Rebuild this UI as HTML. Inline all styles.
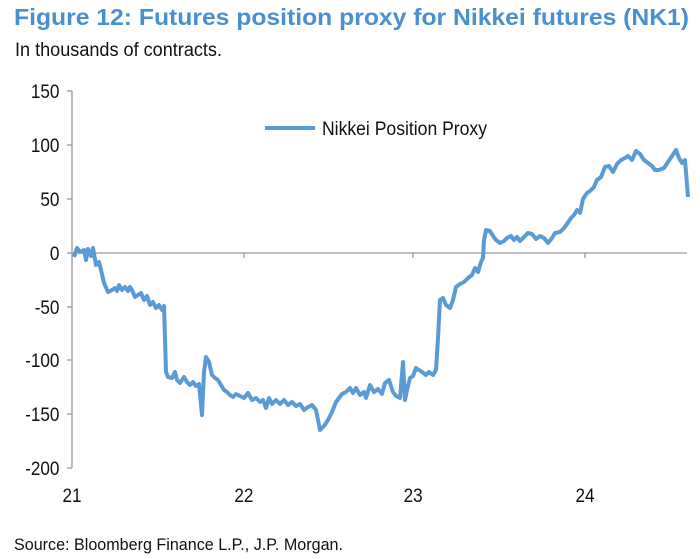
<!DOCTYPE html>
<html><head><meta charset="utf-8"><style>
body{margin:0;background:#fff;width:700px;height:559px;overflow:hidden;font-family:"Liberation Sans",Arial,sans-serif}
svg{position:absolute;left:0;top:0}
</style></head><body>
<svg width="700" height="559" xmlns="http://www.w3.org/2000/svg" font-family="Liberation Sans, Arial, sans-serif">
<text x="14" y="25" font-size="23" font-weight="bold" fill="#4a8fcf" textLength="675" lengthAdjust="spacingAndGlyphs">Figure 12: Futures position proxy for Nikkei futures (NK1)</text>
<text x="15" y="56" font-size="19" fill="#111" textLength="207" lengthAdjust="spacingAndGlyphs">In thousands of contracts.</text>
<g stroke="#999" stroke-width="1.3" fill="none">
<line x1="72" y1="91" x2="72" y2="468"/>
<line x1="67" y1="91" x2="72" y2="91"/>
<line x1="67" y1="145" x2="72" y2="145"/>
<line x1="67" y1="199" x2="72" y2="199"/>
<line x1="67" y1="253" x2="72" y2="253"/>
<line x1="67" y1="307" x2="72" y2="307"/>
<line x1="67" y1="360" x2="72" y2="360"/>
<line x1="67" y1="414" x2="72" y2="414"/>
<line x1="67" y1="468" x2="72" y2="468"/>
<line x1="72" y1="253" x2="687" y2="253"/>
<line x1="244" y1="253" x2="244" y2="258"/>
<line x1="413" y1="253" x2="413" y2="258"/>
<line x1="585" y1="253" x2="585" y2="258"/>
</g>
<g font-size="19" fill="#111" text-anchor="end" transform="scale(0.9,1)">
<text x="66" y="98">150</text><text x="66" y="152">100</text><text x="66" y="206">50</text>
<text x="66" y="260">0</text><text x="66" y="314">-50</text><text x="66" y="367">-100</text>
<text x="66" y="421">-150</text><text x="66" y="475">-200</text>
</g>
<g font-size="19" fill="#111" text-anchor="middle" transform="scale(0.9,1)">
<text x="80" y="502">21</text><text x="271" y="502">22</text><text x="459" y="502">23</text><text x="650" y="502">24</text>
</g>
<text x="14" y="550" font-size="16.5" fill="#111" textLength="329" lengthAdjust="spacingAndGlyphs">Source: Bloomberg Finance L.P., J.P. Morgan.</text>
<line x1="265" y1="128" x2="315" y2="128" stroke="#5b9bd5" stroke-width="4"/>
<text x="322" y="135" font-size="19" fill="#111" textLength="165" lengthAdjust="spacingAndGlyphs">Nikkei Position Proxy</text>
<polyline fill="none" stroke="#5b9bd5" stroke-width="4" stroke-linejoin="round" points="74,257 77,248 80,252 84,250 86,260 88,249 91,256 93,248 96,265 99,262 101,270 104,283 108,292 112,290 115,288 117,291 119,285 122,290 125,287 128,291 130,287 132,290 135,297 138,295 141,293 144,300 147,296 150,305 153,302 156,308 159,305 162,310 164,306 166,372 168,377 172,378 175,372 177,380 180,383 184,377 187,382 190,385 193,382 196,386 199,384 202,415 204,372 206,357 209,362 212,375 215,378 218,380 221,385 224,390 227,392 230,395 233,397 236,394 240,396 244,398 248,393 252,400 256,398 260,402 263,400 266,408 269,398 272,404 276,400 280,404 284,400 288,405 292,402 296,406 300,404 304,410 308,407 312,405 316,410 320,430 324,426 328,420 332,412 336,402 339,398 342,394 346,392 350,388 353,393 356,388 360,395 364,392 366,398 370,385 374,392 378,389 382,394 385,383 389,380 393,392 396,396 400,398 403,362 405,400 407,390 410,378 413,376 416,368 419,370 422,372 426,375 429,372 433,375 436,370 438,338 440,300 443,298 446,305 450,308 453,300 456,287 460,284 464,282 468,278 472,275 475,268 478,272 481,262 483,258 484,240 486,230 490,231 493,236 496,240 500,243 504,241 507,238 511,236 514,240 517,237 520,241 524,237 528,233 532,234 536,239 540,236 544,238 548,243 552,238 555,233 560,232 564,228 567,224 571,218 574,215 577,210 580,213 583,199 587,193 590,191 594,187 597,180 601,177 605,167 609,166 613,172 617,164 621,160 625,158 628,156 632,160 636,151 640,154 644,160 648,163 652,166 655,170 659,170 664,168 668,162 672,156 676,150 679,158 682,163 685,160 688,197"/>
</svg>
</body></html>
